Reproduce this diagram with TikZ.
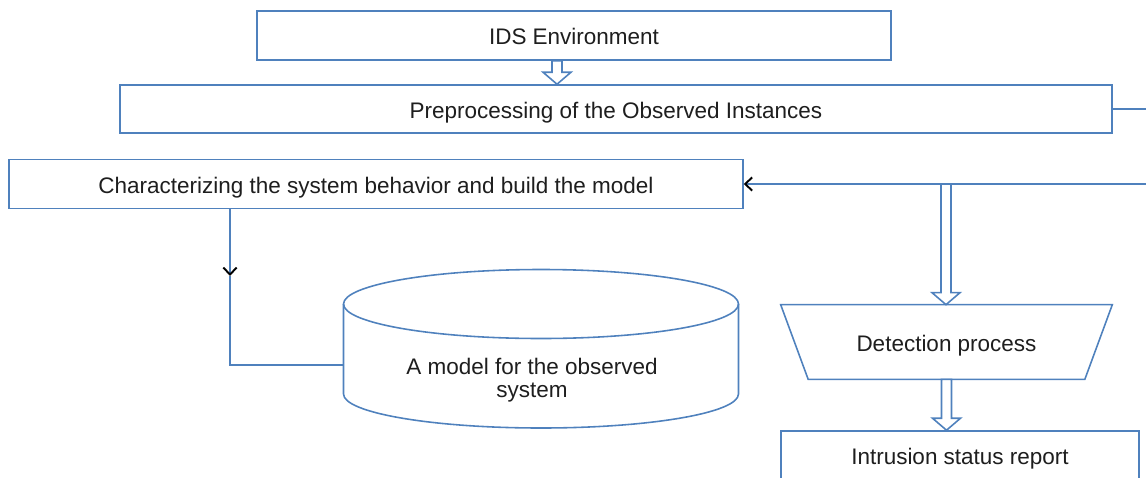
\documentclass[tikz,border=0pt]{standalone}
\usepackage{fontspec}
\setmainfont{Liberation Sans}
\usetikzlibrary{arrows.meta}
\definecolor{lineblue}{RGB}{79,129,189}
\definecolor{inkgray}{RGB}{30,30,30}

% hollow block arrow: #1 x position, #2 from, #3 to
\newcommand{\hollowarrow}[3]{%
  \draw[flow,fill=white] (#1-5,0 |- #2) -- ([yshift=0.24cm]#1-5,0 |- #3)
    -- ([yshift=0.24cm]#1-14,0 |- #3) -- (#1,0 |- #3)
    -- ([yshift=0.24cm]#1+14,0 |- #3) -- ([yshift=0.24cm]#1+5,0 |- #3)
    -- (#1+5,0 |- #2) -- cycle;}

\begin{document}
\begin{tikzpicture}
		[x=0.02cm,y=0.02cm,
		flow/.style={draw=lineblue,line width=0.9pt},
		label/.style={text=inkgray,font=\fontsize{12.8}{15}\selectfont,text height=13.6pt,text depth=3pt},
		box/.style={rectangle,draw=lineblue,line width=0.9pt,fill=white,inner sep=0pt,label},
		trap/.style={rectangle,inner sep=0pt,minimum width=6.62cm,minimum height=1.48cm,label},
		tip/.style={-{Straight Barb[black,length=4pt,width=7.5pt,line width=1.1pt]}}]
		\useasboundingbox (0,0) rectangle (1146,-477);
		\clip (0,0) rectangle (1146,-477);

		\node [box,minimum width=12.68cm,minimum height=0.98cm] (ids) at (574,-35.5) {IDS Environment};
		\node [box,minimum width=19.84cm,minimum height=0.96cm] (pre) at (616,-109) {Preprocessing of the Observed Instances};
		\node [box,minimum width=14.68cm,minimum height=0.98cm] (char) at (376,-184) {Characterizing the system behavior and build the model};
		\node [trap] (detect) at (946.5,-342) {Detection process};
		\draw [flow] (detect.north west) -- (detect.north east) -- ([xshift=-0.55cm]detect.south east)
			-- ([xshift=0.55cm]detect.south west) -- cycle;
		\node [box,minimum width=7.16cm,minimum height=0.98cm] (report) at (960,-455.5) {Intrusion status report};

		% the model store
		\draw [flow] (343.5,-304) arc[start angle=180,end angle=-180,x radius=197.5,y radius=34.5];
		\draw [flow] (343.5,-304) -- (343.5,-394) arc[start angle=180,end angle=360,x radius=197.5,y radius=34] -- (738.5,-304);
		\node [minimum width=7.9cm,minimum height=3.16cm,inner sep=0pt] (model) at (541,-349) {};
		\node [text=inkgray,font=\fontsize{12.8}{15}\selectfont,align=center] (modeltext) at (532,-380) {A model for the observed\\[-2pt]system};

		% loop out on the right side
		\coordinate (outA) at (1146,-109);
		\coordinate (outB) at (1146,-184);
		\draw [flow] (pre.east) -- (outA);
		\draw [flow,tip] (outB) -- (char.east);

		% model building
		\coordinate (down) at (230,-276);
		\draw [flow,tip] (230,0 |- char.south) -- (down);
		\draw [flow] (down) -- (230,-365) -- ([yshift=-0.32cm]model.west);

		\hollowarrow{557}{ids.south}{pre.north}
		\hollowarrow{946}{char.east}{detect.north}
		\hollowarrow{946.5}{detect.south}{report.north}

	\end{tikzpicture}
\end{document}
